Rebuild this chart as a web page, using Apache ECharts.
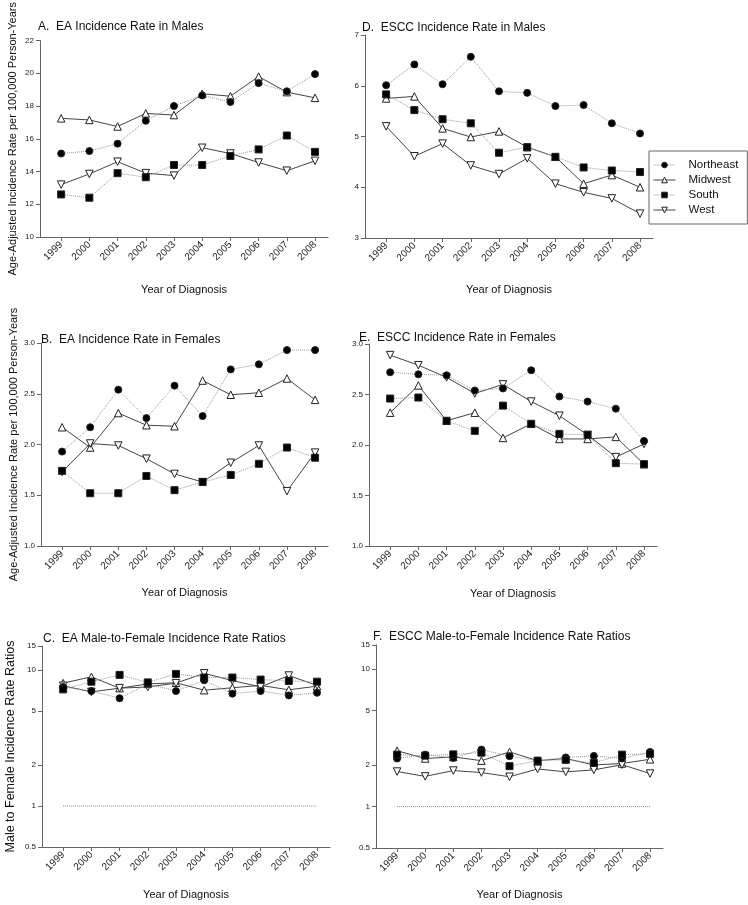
<!DOCTYPE html>
<html>
<head>
<meta charset="utf-8">
<script src="https://cdn.jsdelivr.net/npm/echarts@6/dist/echarts.min.js"></script>
<style>
html,body{margin:0;padding:0;background:#fff;}
#chart{width:748px;height:905px;}
</style>
</head>
<body>
<div id="chart"></div>
<script>
var years = [1999, 2000, 2001, 2002, 2003, 2004, 2005, 2006, 2007, 2008];
var regions = ['Northeast', 'Midwest', 'South', 'West'];

// A. EA incidence, males
var eaMaleNE = [15.1, 15.25, 15.7, 17.1, 18.0, 18.65, 18.25, 19.4, 18.9, 19.95];
var eaMaleMW = [17.25, 17.15, 16.75, 17.55, 17.45, 18.75, 18.6, 19.8, 18.85, 18.5];
var eaMaleS  = [12.6, 12.4, 13.9, 13.65, 14.4, 14.4, 14.95, 15.35, 16.2, 15.2];
var eaMaleW  = [13.2, 13.85, 14.6, 13.9, 13.75, 15.45, 15.1, 14.55, 14.05, 14.65];

// D. ESCC incidence, males
var esccMaleNE = [6.01, 6.42, 6.03, 6.57, 5.89, 5.86, 5.6, 5.62, 5.26, 5.06];
var esccMaleMW = [5.75, 5.79, 5.16, 4.99, 5.1, 4.79, 4.6, 4.07, 4.24, 4.0];
var esccMaleS  = [5.83, 5.52, 5.34, 5.26, 4.68, 4.79, 4.6, 4.39, 4.33, 4.3];
var esccMaleW  = [5.2, 4.61, 4.86, 4.43, 4.26, 4.57, 4.07, 3.9, 3.78, 3.48];

// B. EA incidence, females
var eaFemNE = [1.93, 2.17, 2.54, 2.26, 2.58, 2.28, 2.74, 2.79, 2.93, 2.93];
var eaFemMW = [2.17, 1.97, 2.31, 2.19, 2.18, 2.63, 2.49, 2.51, 2.65, 2.44];
var eaFemS  = [1.74, 1.52, 1.52, 1.69, 1.55, 1.63, 1.7, 1.81, 1.97, 1.87];
var eaFemW  = [1.73, 2.01, 1.99, 1.86, 1.71, 1.63, 1.82, 1.99, 1.54, 1.92];

// E. ESCC incidence, females
var esccFemNE = [2.72, 2.7, 2.69, 2.54, 2.56, 2.74, 2.48, 2.43, 2.36, 2.04];
var esccFemMW = [2.32, 2.59, 2.24, 2.32, 2.07, 2.21, 2.06, 2.06, 2.08, 1.81];
var esccFemS  = [2.46, 2.47, 2.24, 2.14, 2.39, 2.21, 2.11, 2.1, 1.82, 1.81];
var esccFemW  = [2.89, 2.79, 2.67, 2.51, 2.6, 2.43, 2.29, 2.1, 1.88, 2.01];

// C. EA male-to-female ratios
var eaRatioNE = [7.5, 7.0, 6.2, 7.9, 7.0, 8.4, 6.7, 7.0, 6.5, 6.8];
var eaRatioMW = [8.0, 8.9, 7.35, 7.9, 8.05, 7.1, 7.4, 7.7, 7.15, 7.6];
var eaRatioS  = [7.2, 8.2, 9.2, 8.1, 9.35, 8.8, 8.8, 8.5, 8.3, 8.2];
var eaRatioW  = [7.65, 6.9, 7.35, 7.5, 8.0, 9.45, 8.35, 7.5, 9.1, 7.7];

// F. ESCC male-to-female ratios
var esccRatioNE = [2.24, 2.39, 2.26, 2.6, 2.33, 2.16, 2.28, 2.34, 2.24, 2.5];
var esccRatioMW = [2.55, 2.24, 2.3, 2.16, 2.5, 2.16, 2.24, 2.01, 2.06, 2.21];
var esccRatioS  = [2.39, 2.35, 2.4, 2.47, 1.97, 2.16, 2.19, 2.08, 2.39, 2.42];
var esccRatioW  = [1.8, 1.66, 1.83, 1.77, 1.65, 1.88, 1.79, 1.85, 2.02, 1.74];

var refLine = [1, 1, 1, 1, 1, 1, 1, 1, 1, 1];

var linTicksA = [10, 12, 14, 16, 18, 20, 22];
var linTicksD = [3, 4, 5, 6, 7];
var linTicksBE = [1.0, 1.5, 2.0, 2.5, 3.0];
var logTicks = [0.5, 1, 2, 5, 10, 15];

var titlesText = [
  'A.  EA Incidence Rate in Males',
  'D.  ESCC Incidence Rate in Males',
  'B.  EA Incidence Rate in Females',
  'E.  ESCC Incidence Rate in Females',
  'C.  EA Male-to-Female Incidence Rate Ratios',
  'F.  ESCC Male-to-Female Incidence Rate Ratios'
];
var xName = 'Year of Diagnosis';
var yNameRate = 'Age-Adjusted Incidence Rate per 100,000 Person-Years';
var yNameRatio = 'Male to Female Incidence Rate Ratios';

var FONT = 'Liberation Sans, Arial, sans-serif';

var panelData = [
  [eaMaleNE, eaMaleMW, eaMaleS, eaMaleW],
  [esccMaleNE, esccMaleMW, esccMaleS, esccMaleW],
  [eaFemNE, eaFemMW, eaFemS, eaFemW],
  [esccFemNE, esccFemMW, esccFemS, esccFemW],
  [eaRatioNE, eaRatioMW, eaRatioS, eaRatioW],
  [esccRatioNE, esccRatioMW, esccRatioS, esccRatioW]
];

var grids = [
  {left: 40, top: 36, width: 288, height: 201},
  {left: 365, top: 35, width: 288, height: 203},
  {left: 41, top: 343, width: 287, height: 203},
  {left: 369, top: 344, width: 288, height: 202},
  {left: 42, top: 646, width: 288, height: 201},
  {left: 376, top: 645, width: 287, height: 203}
];
var titlePos = [
  {left: 38, top: 21}, {left: 362, top: 22},
  {left: 41, top: 334}, {left: 359, top: 332},
  {left: 43, top: 633}, {left: 373, top: 631}
];
var xNameGap = [47, 46, 41, 42, 42, 41];

var axisLineStyle = {color: '#666', width: 1};

function pairs(vals) {
  return years.map(function (y, i) { return [y, vals[i]]; });
}

var xAxes = grids.map(function (g, i) {
  return {
    gridIndex: i, type: 'value', min: 1998.25, max: 2008.46,
    splitLine: {show: false},
    axisLine: {show: true, lineStyle: axisLineStyle},
    axisTick: {show: true, length: 4, lineStyle: axisLineStyle, customValues: years},
    axisLabel: {customValues: years, rotate: 45, fontSize: 10, color: '#222', fontFamily: FONT, margin: 6,
      formatter: function (v) { return String(Math.round(v)); }},
    name: xName, nameLocation: 'middle', nameGap: xNameGap[i],
    nameTextStyle: {fontSize: 11, color: '#111', fontFamily: FONT, verticalAlign: 'top'}
  };
});

function linY(i, min, max, ticks, dec, showName) {
  return {
    gridIndex: i, type: 'value', min: min, max: max,
    splitLine: {show: false},
    axisLine: {show: true, lineStyle: axisLineStyle},
    axisTick: {show: true, length: 4, lineStyle: axisLineStyle, customValues: ticks},
    axisLabel: {customValues: ticks, fontSize: 8, color: '#222', fontFamily: FONT, margin: 6,
      formatter: function (v) { return dec ? v.toFixed(1) : String(v); }},
    name: showName ? yNameRate : '', nameLocation: 'middle', nameRotate: 90, nameGap: 22,
    nameTextStyle: {fontSize: 11, color: '#111', fontFamily: FONT}
  };
}
function logY(i, showName) {
  return {
    gridIndex: i, type: 'log', logBase: 10, min: 0.5, max: 15,
    splitLine: {show: false}, minorTick: {show: false},
    axisLine: {show: true, lineStyle: axisLineStyle},
    axisTick: {show: true, length: 4, lineStyle: axisLineStyle, customValues: logTicks},
    axisLabel: {customValues: logTicks, fontSize: 8, color: '#222', fontFamily: FONT, margin: 6,
      formatter: function (v) { return String(Math.round(v * 10) / 10); }},
    name: showName ? yNameRatio : '', nameLocation: 'middle', nameRotate: 90, nameGap: 25,
    nameTextStyle: {fontSize: 12.5, color: '#111', fontFamily: FONT}
  };
}
var yAxes = [
  linY(0, 10, 22, linTicksA, false, true),
  linY(1, 3, 7, linTicksD, false, false),
  linY(2, 1, 3, linTicksBE, true, true),
  linY(3, 1, 3, linTicksBE, true, false),
  logY(4, true),
  logY(5, false)
];

var styles = [
  {symbol: 'circle', size: 7, rotate: 0, fill: '#000', line: {type: 'dotted', color: '#999', width: 1}},
  {symbol: 'triangle', size: 7.5, rotate: 0, fill: '#fff', line: {type: 'solid', color: '#444', width: 1}},
  {symbol: 'rect', size: 7, rotate: 0, fill: '#000', line: {type: 'dotted', color: '#999', width: 1}},
  {symbol: 'triangle', size: 7.5, rotate: 180, fill: '#fff', line: {type: 'solid', color: '#444', width: 1}}
];

var series = [];
panelData.forEach(function (set, p) {
  if (p >= 4) {
    series.push({
      name: 'ref', type: 'line', xAxisIndex: p, yAxisIndex: p, data: pairs(refLine),
      showSymbol: false, symbol: 'none', silent: true,
      lineStyle: {type: 'dotted', color: '#888', width: 1}, z: 1
    });
  }
  set.forEach(function (vals, r) {
    var s = styles[r];
    series.push({
      name: regions[r], type: 'line', xAxisIndex: p, yAxisIndex: p,
      data: pairs(vals), symbol: s.symbol, symbolSize: s.size, symbolRotate: s.rotate,
      showSymbol: true, animation: false,
      itemStyle: {color: s.fill, borderColor: '#222', borderWidth: 1},
      lineStyle: s.line, z: r % 2 === 0 ? 3 : 2
    });
  });
});

var titles = titlesText.map(function (t, i) {
  return {text: t, left: titlePos[i].left, top: titlePos[i].top, padding: 0,
    textStyle: {fontSize: 12, fontWeight: 'normal', color: '#111', fontFamily: FONT}};
});

var chart = echarts.init(document.getElementById('chart'), null, {renderer: 'canvas'});
chart.setOption({
  animation: false,
  backgroundColor: '#fff',
  title: titles,
  legend: {
    data: regions, orient: 'vertical', left: 649, top: 151,
    borderColor: '#666', borderWidth: 1, padding: [8, 9, 8, 4], itemGap: 3,
    itemWidth: 22, itemHeight: 7, backgroundColor: '#fff',
    itemStyle: {borderWidth: 1},
    lineStyle: {width: 1},
    textStyle: {fontSize: 11.5, color: '#111', fontFamily: FONT, padding: [0, 0, 0, 8]}
  },
  grid: grids.map(function (g) { return Object.assign({containLabel: false}, g); }),
  xAxis: xAxes,
  yAxis: yAxes,
  series: series
});
</script>
</body>
</html>
